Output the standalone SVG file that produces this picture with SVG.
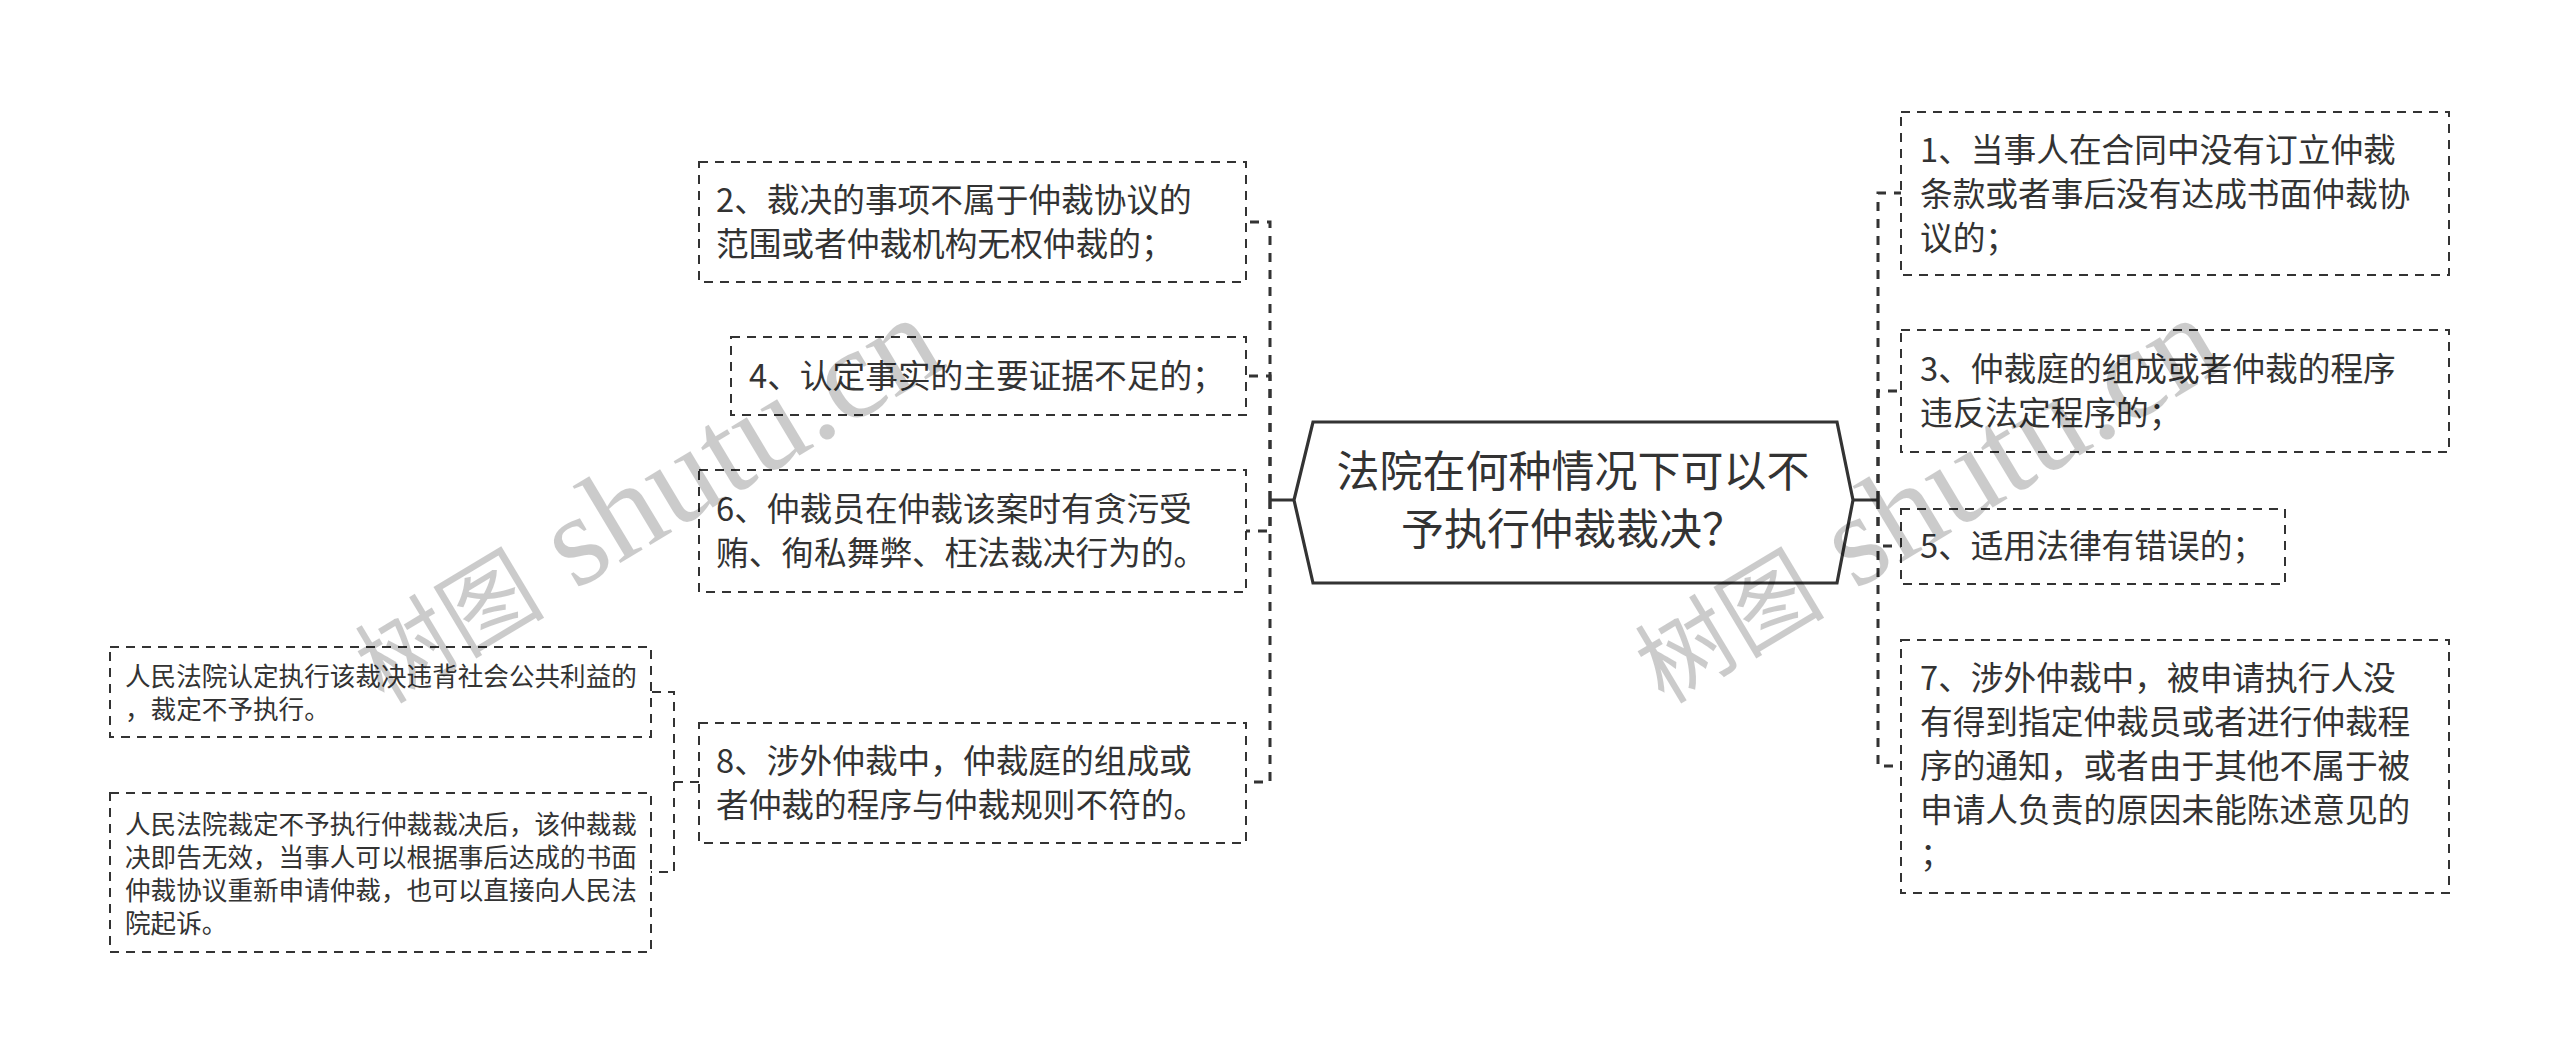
<svg xmlns="http://www.w3.org/2000/svg" width="2560" height="1062" viewBox="0 0 2560 1062">
<style>
.bg{fill:#ffffff}
.box{fill:none;stroke:#333333;stroke-width:2;stroke-dasharray:9 7}
.hex{fill:#ffffff;stroke:#333333;stroke-width:3.2}
.t{font-family:"Noto Sans CJK SC","Noto Sans",sans-serif;font-size:32.7px;fill:#333333}
.ts{font-family:"Noto Sans CJK SC","Noto Sans",sans-serif;font-size:25.6px;fill:#333333}
.tc{font-family:"Noto Sans CJK SC","Noto Sans",sans-serif;font-size:43px;fill:#333333;text-anchor:middle}
.c{fill:none;stroke:#333333;stroke-width:3;stroke-dasharray:9 8}
.c2{fill:none;stroke:#333333;stroke-width:2;stroke-dasharray:9 7}
.cs{fill:none;stroke:#333333;stroke-width:3}
.wm{font-family:"Liberation Serif","Noto Sans CJK SC",serif;font-size:130px;fill:#000000;opacity:0.2}
.wmc{font-family:"Noto Sans CJK SC",sans-serif;font-size:95px}
</style>
<rect class="bg" x="0" y="0" width="2560" height="1062"/>
<g id="connectors">
<path class="cs" d="M1294,500 H1270"/>
<path class="c" d="M1270,500 V222 H1246"/>
<path class="c" d="M1270,500 V376 H1246"/>
<path class="c" d="M1270,500 V531 H1246"/>
<path class="c" d="M1270,500 V782 H1246"/>
<path class="cs" d="M1853,500 H1878"/>
<path class="c" d="M1878,500 V193 H1901"/>
<path class="c" d="M1878,500 V391 H1901"/>
<path class="c" d="M1878,500 V546 H1901"/>
<path class="c" d="M1878,500 V766 H1901"/>
<path class="c2" d="M699,782 H674 V692 H651"/>
<path class="c2" d="M674,782 V872 H651"/>
</g>
<g id="root">
<polygon class="hex" points="1294,500 1313,422 1837,422 1853,500 1837,583 1313,583"/>
<text class="tc" x="1573" y="487">法院在何种情况下可以不</text>
<text class="tc" x="1573" y="545">予执行仲裁裁决？</text>
</g>
<g id="n2">
<rect class="box" x="699" y="162" width="547" height="120"/>
<text class="t" x="716" y="212">2、裁决的事项不属于仲裁协议的</text>
<text class="t" x="716" y="256">范围或者仲裁机构无权仲裁的；</text>
</g>
<g id="n4">
<rect class="box" x="731" y="337" width="515" height="78"/>
<text class="t" x="749" y="388">4、认定事实的主要证据不足的；</text>
</g>
<g id="n6">
<rect class="box" x="699" y="470" width="547" height="122"/>
<text class="t" x="716" y="521">6、仲裁员在仲裁该案时有贪污受</text>
<text class="t" x="716" y="565">贿、徇私舞弊、枉法裁决行为的。</text>
</g>
<g id="n8">
<rect class="box" x="699" y="723" width="547" height="120"/>
<text class="t" x="716" y="773">8、涉外仲裁中，仲裁庭的组成或</text>
<text class="t" x="716" y="817">者仲裁的程序与仲裁规则不符的。</text>
</g>
<g id="leafA">
<rect class="box" x="110" y="647" width="541" height="90"/>
<text class="ts" x="125" y="686">人民法院认定执行该裁决违背社会公共利益的</text>
<text class="ts" x="125" y="719">，裁定不予执行。</text>
</g>
<g id="leafB">
<rect class="box" x="110" y="793" width="541" height="159"/>
<text class="ts" x="125" y="834">人民法院裁定不予执行仲裁裁决后，该仲裁裁</text>
<text class="ts" x="125" y="867">决即告无效，当事人可以根据事后达成的书面</text>
<text class="ts" x="125" y="900">仲裁协议重新申请仲裁，也可以直接向人民法</text>
<text class="ts" x="125" y="933">院起诉。</text>
</g>
<g id="n1">
<rect class="box" x="1901" y="112" width="548" height="163"/>
<text class="t" x="1920" y="162">1、当事人在合同中没有订立仲裁</text>
<text class="t" x="1920" y="206">条款或者事后没有达成书面仲裁协</text>
<text class="t" x="1920" y="250">议的；</text>
</g>
<g id="n3">
<rect class="box" x="1901" y="330" width="548" height="122"/>
<text class="t" x="1920" y="381">3、仲裁庭的组成或者仲裁的程序</text>
<text class="t" x="1920" y="425">违反法定程序的；</text>
</g>
<g id="n5">
<rect class="box" x="1901" y="509" width="384" height="75"/>
<text class="t" x="1920" y="558">5、适用法律有错误的；</text>
</g>
<g id="n7">
<rect class="box" x="1901" y="640" width="548" height="253"/>
<text class="t" x="1920" y="690">7、涉外仲裁中，被申请执行人没</text>
<text class="t" x="1920" y="734">有得到指定仲裁员或者进行仲裁程</text>
<text class="t" x="1920" y="778">序的通知，或者由于其他不属于被</text>
<text class="t" x="1920" y="822">申请人负责的原因未能陈述意见的</text>
<text class="t" x="1920" y="866">；</text>
</g>
<g id="watermark">
<text class="wm" transform="translate(384,705) rotate(-31)"><tspan class="wmc">树图</tspan> shutu.cn</text>
<text class="wm" transform="translate(1664,705) rotate(-31)"><tspan class="wmc">树图</tspan> shutu.cn</text>
</g>
</svg>
